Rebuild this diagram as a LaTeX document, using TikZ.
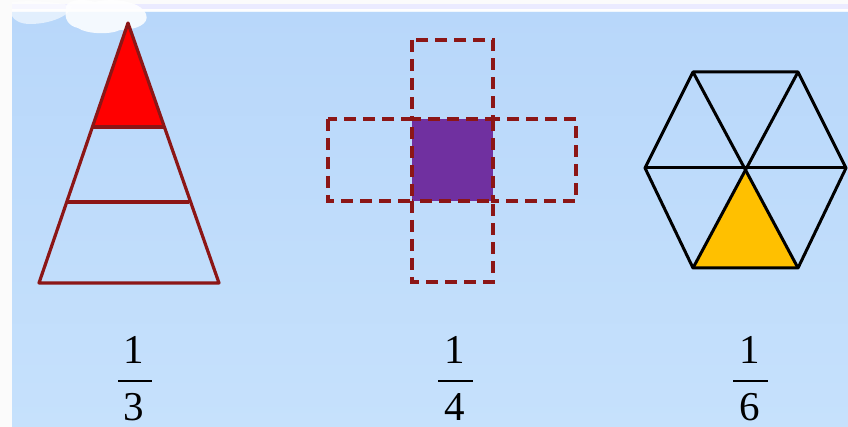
\documentclass[tikz,border=0pt]{standalone}
\usepackage{fontspec}
\setmainfont{Liberation Serif}
\begin{document}
\begin{tikzpicture}[x=1pt,y=-1pt,
  outl/.style={draw=darkred, line width=3.2pt, line join=round},
  dashbox/.style={draw=darkred, line width=3.2pt, dash pattern=on 12pt off 7pt},
  hexl/.style={draw=black, line width=3pt, line join=round},
  num/.style={font=\fontsize{41}{46}\selectfont, inner sep=0pt, anchor=center},
  fbar/.style={line width=2pt, draw=black}]
\definecolor{darkred}{RGB}{140,22,22}
\definecolor{bgtop}{RGB}{184,215,250}
\definecolor{bgbot}{RGB}{198,225,252}
\definecolor{purp}{RGB}{112,48,160}
\definecolor{gold}{RGB}{255,192,0}
\useasboundingbox (0,0) rectangle (848,427);
% background
\fill[white!97!gray] (0,0) rectangle (848,427);
\fill[blue!8!white] (12,4) rectangle (848,9);
\shade[top color=bgtop, bottom color=bgbot] (12,12) rectangle (848,427);
\fill[white, opacity=0.8] (12,9) rectangle (848,12);
% cloud
\begin{scope}[white]
\fill[opacity=0.6] (12,2) .. controls (30,0) and (60,2) .. (72,6)
  .. controls (70,16) and (50,24) .. (30,24)
  .. controls (20,24) and (14,20) .. (12,16) -- cycle;
\fill[opacity=0.85] (66,10) .. controls (64,0) and (80,-2) .. (95,2)
  .. controls (110,-2) and (140,0) .. (146,14)
  .. controls (150,24) and (136,30) .. (120,30)
  .. controls (110,35) and (86,34) .. (78,28)
  .. controls (68,26) and (64,18) .. (66,10) -- cycle;
\end{scope}
% triangle 1/3
\coordinate (A) at (128,23);
\coordinate (BL) at (39,283);
\coordinate (BR) at (219,283);
\coordinate (R1) at (92.4,127);
\coordinate (R2) at (163.6,127);
\coordinate (S1) at (66.7,202);
\coordinate (S2) at (189.3,202);
\fill[red] (A) -- (R1) -- (R2) -- cycle;
\draw[outl] (A) -- (BL) -- (BR) -- cycle;
\draw[outl] (R1) -- (R2);
\draw[outl] (S1) -- (S2);
% cross 1/4
\fill[purp] (412,119) rectangle (493,201);
\draw[dashbox] (412,40) rectangle (493,119);
\draw[dashbox] (412,201) rectangle (493,282);
\draw[dashbox] (328,119) rectangle (412,201);
\draw[dashbox] (493,119) rectangle (576,201);
% hexagon 1/6
\coordinate (O) at (745.5,168);
\coordinate (H1) at (693,72);
\coordinate (H2) at (798,72);
\coordinate (H3) at (846,168);
\coordinate (H4) at (798,268);
\coordinate (H5) at (693,268);
\coordinate (H6) at (645,168);
\fill[gold] (O) -- (H4) -- (H5) -- cycle;
\draw[hexl] (H1) -- (H2) -- (H3) -- (H4) -- (H5) -- (H6) -- cycle;
\draw[hexl] (H1) -- (H4);
\draw[hexl] (H2) -- (H5);
\draw[hexl] (H3) -- (H6);
% fractions
\node[num] (n1) at (134,350) {1};
\node[num] (d1) at (134,407) {3};
\draw[fbar] (118,381) -- (152,381);
\node[num] (n2) at (455,350) {1};
\node[num] (d2) at (455,407) {4};
\draw[fbar] (438,381) -- (473,381);
\node[num] (n3) at (750,350) {1};
\node[num] (d3) at (750,407) {6};
\draw[fbar] (733,381) -- (768,381);
\end{tikzpicture}
\end{document}
